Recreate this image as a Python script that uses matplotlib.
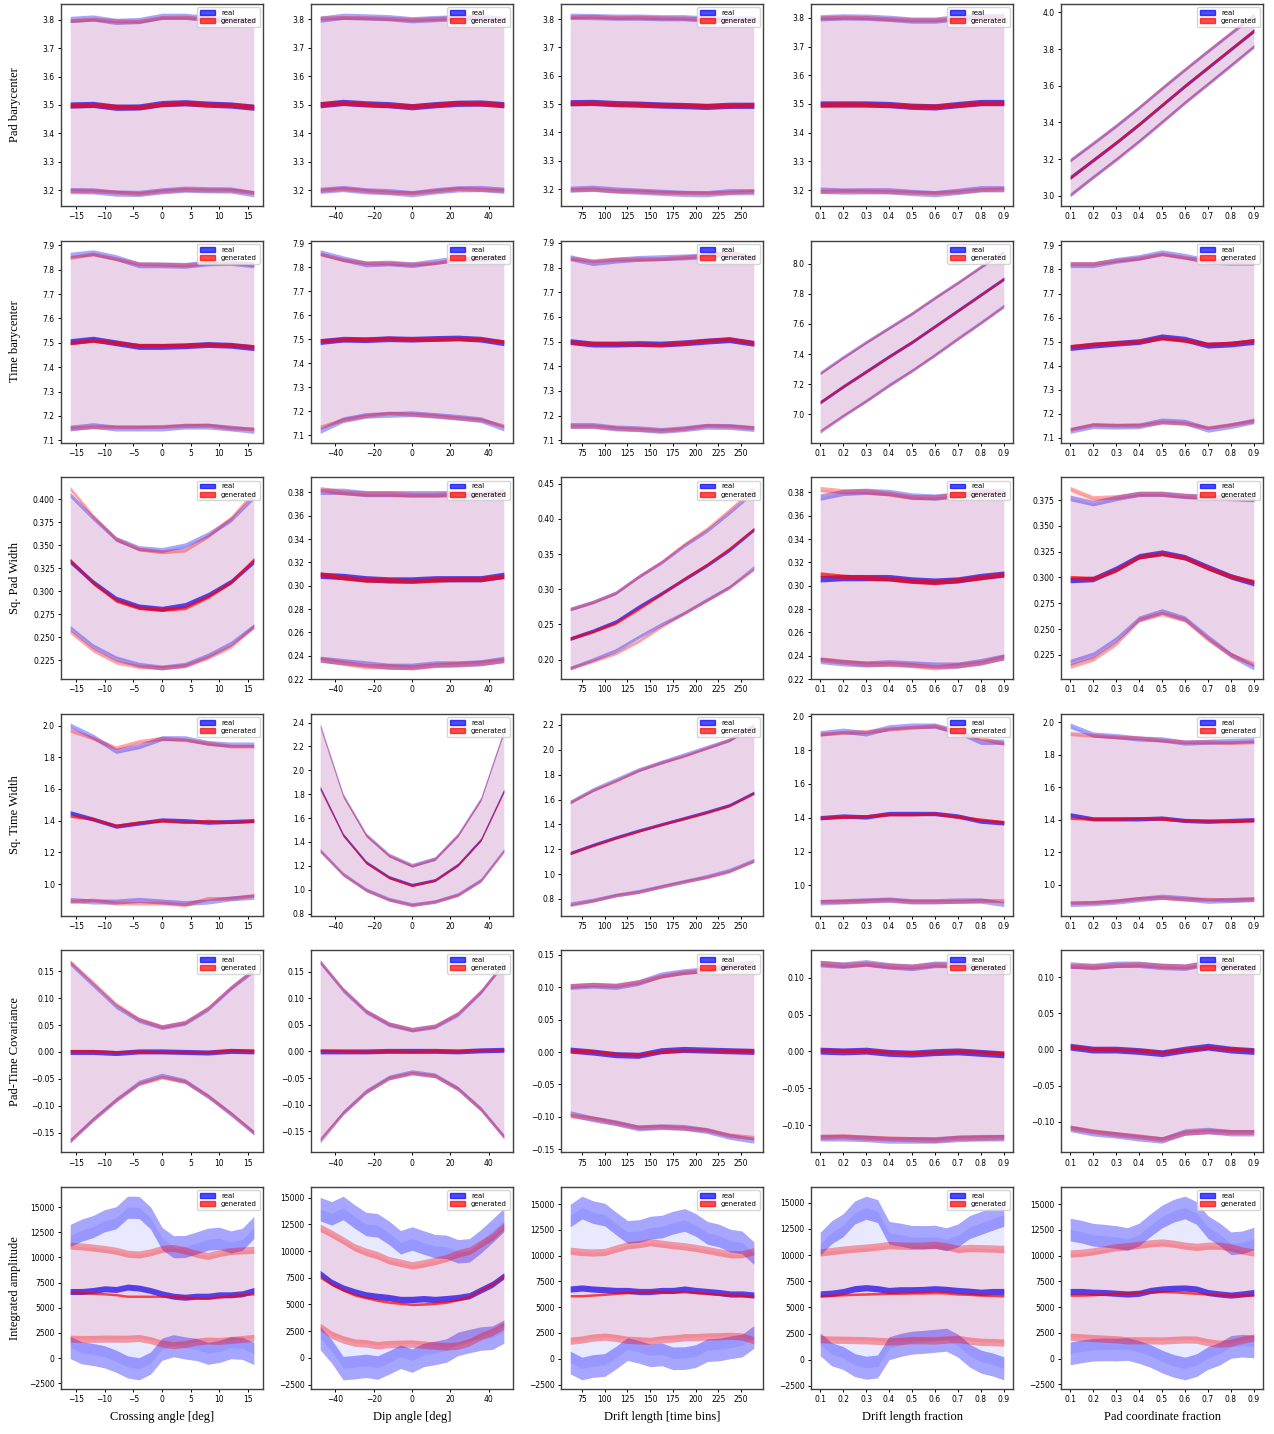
"""Comparacion real vs generado: medias y bandas +-std por variable."""
import matplotlib
matplotlib.use("Agg")
import matplotlib.pyplot as plt
import numpy as np
from matplotlib.patches import Patch
from matplotlib.ticker import MultipleLocator

# Ejes x de cada columna
crossing_angle = [-16, -12, -8, -4, 0, 4, 8, 12, 16]
dip_angle = [-48, -36, -24, -12, 0, 12, 24, 36, 48]
drift_length = [62, 87, 112, 137, 162, 187, 212, 237, 264]
drift_frac = [0.1, 0.2, 0.3, 0.4, 0.5, 0.6, 0.7, 0.8, 0.9]
pad_frac = [0.1, 0.2, 0.3, 0.4, 0.5, 0.6, 0.7, 0.8, 0.9]

# Ejes x mas finos para la amplitud integrada (curvas mas ruidosas)
amp_crossing_angle = [-16, -14, -12, -10, -8, -6, -4, -2, 0, 2, 4, 6, 8, 10, 12, 14, 16]
amp_dip_angle = [-48, -42, -36, -30, -24, -18, -12, -6, 0, 6, 12, 18, 24, 30, 36, 42, 48]
amp_drift_length = [62, 75, 87, 100, 112, 125, 138, 150, 163, 175, 188, 200, 213, 226, 238, 251, 264]
amp_drift_frac = [0.10, 0.15, 0.20, 0.25, 0.30, 0.35, 0.40, 0.45, 0.50,
                  0.55, 0.60, 0.65, 0.70, 0.75, 0.80, 0.85, 0.90]
amp_pad_frac = [0.10, 0.15, 0.20, 0.25, 0.30, 0.35, 0.40, 0.45, 0.50,
                0.55, 0.60, 0.65, 0.70, 0.75, 0.80, 0.85, 0.90]

x_labels = ["Crossing angle [deg]", "Dip angle [deg]", "Drift length [time bins]",
            "Drift length fraction", "Pad coordinate fraction"]
y_labels = ["Pad barycenter", "Time barycenter", "Sq. Pad Width",
            "Sq. Time Width", "Pad-Time Covariance", "Integrated amplitude"]

# --- Pad barycenter ---
padb_mu_real = [[3.500, 3.502, 3.492, 3.493, 3.505, 3.508, 3.503, 3.500, 3.492],
                [3.500, 3.508, 3.503, 3.500, 3.493, 3.500, 3.505, 3.506, 3.500],
                [3.505, 3.506, 3.502, 3.500, 3.497, 3.495, 3.492, 3.496, 3.496],
                [3.500, 3.500, 3.500, 3.498, 3.492, 3.490, 3.498, 3.505, 3.505],
                [3.100, 3.195, 3.290, 3.390, 3.495, 3.600, 3.700, 3.800, 3.900]]
padb_sd_real = [[0.302, 0.305, 0.303, 0.305, 0.308, 0.305, 0.302, 0.300, 0.305],
                [0.300, 0.302, 0.305, 0.305, 0.305, 0.302, 0.300, 0.300, 0.300],
                [0.305, 0.303, 0.305, 0.307, 0.308, 0.310, 0.308, 0.305, 0.305],
                [0.300, 0.303, 0.302, 0.300, 0.300, 0.302, 0.302, 0.300, 0.300],
                [0.095, 0.092, 0.092, 0.092, 0.092, 0.090, 0.090, 0.088, 0.085]]
padb_mu_gen = [[3.498, 3.500, 3.495, 3.492, 3.503, 3.506, 3.502, 3.500, 3.494],
               [3.502, 3.506, 3.502, 3.498, 3.495, 3.500, 3.506, 3.504, 3.500],
               [3.503, 3.505, 3.500, 3.500, 3.497, 3.496, 3.494, 3.495, 3.497],
               [3.498, 3.500, 3.499, 3.496, 3.493, 3.492, 3.497, 3.503, 3.504],
               [3.098, 3.195, 3.292, 3.392, 3.497, 3.600, 3.702, 3.802, 3.902]]
padb_sd_gen = [[0.300, 0.303, 0.302, 0.304, 0.306, 0.304, 0.302, 0.300, 0.303],
               [0.302, 0.300, 0.303, 0.305, 0.304, 0.302, 0.300, 0.301, 0.300],
               [0.305, 0.305, 0.306, 0.307, 0.308, 0.308, 0.307, 0.306, 0.304],
               [0.302, 0.302, 0.302, 0.301, 0.300, 0.301, 0.302, 0.301, 0.300],
               [0.095, 0.093, 0.092, 0.092, 0.093, 0.091, 0.090, 0.089, 0.087]]

# --- Time barycenter ---
timeb_mu_real = [[7.505, 7.515, 7.500, 7.485, 7.485, 7.488, 7.493, 7.490, 7.480],
                 [7.490, 7.500, 7.498, 7.502, 7.500, 7.503, 7.505, 7.500, 7.485],
                 [7.500, 7.490, 7.490, 7.492, 7.490, 7.495, 7.502, 7.508, 7.493],
                 [7.080, 7.185, 7.285, 7.385, 7.480, 7.585, 7.690, 7.795, 7.900],
                 [7.475, 7.485, 7.493, 7.500, 7.520, 7.510, 7.485, 7.490, 7.500]]
timeb_sd_real = [[0.355, 0.355, 0.350, 0.335, 0.335, 0.330, 0.335, 0.340, 0.340],
                 [0.370, 0.335, 0.315, 0.315, 0.310, 0.320, 0.330, 0.335, 0.355],
                 [0.340, 0.330, 0.340, 0.345, 0.350, 0.348, 0.345, 0.352, 0.345],
                 [0.195, 0.195, 0.195, 0.190, 0.190, 0.190, 0.185, 0.185, 0.180],
                 [0.345, 0.335, 0.345, 0.350, 0.350, 0.345, 0.350, 0.340, 0.330]]
timeb_mu_gen = [[7.500, 7.510, 7.500, 7.490, 7.490, 7.490, 7.495, 7.490, 7.485],
                [7.495, 7.498, 7.500, 7.505, 7.500, 7.500, 7.503, 7.500, 7.490],
                [7.498, 7.493, 7.492, 7.490, 7.488, 7.495, 7.505, 7.510, 7.495],
                [7.082, 7.185, 7.283, 7.383, 7.482, 7.585, 7.688, 7.793, 7.898],
                [7.480, 7.490, 7.495, 7.500, 7.515, 7.505, 7.490, 7.493, 7.505]]
timeb_sd_gen = [[0.350, 0.355, 0.345, 0.335, 0.333, 0.330, 0.333, 0.340, 0.338],
                [0.360, 0.333, 0.318, 0.312, 0.312, 0.318, 0.330, 0.335, 0.350],
                [0.340, 0.335, 0.342, 0.345, 0.348, 0.348, 0.345, 0.352, 0.345],
                [0.190, 0.192, 0.195, 0.192, 0.190, 0.190, 0.188, 0.186, 0.182],
                [0.345, 0.335, 0.343, 0.348, 0.350, 0.345, 0.348, 0.338, 0.335]]

# --- Sq. Pad Width ---
padw_mu_real = [[0.3325, 0.310, 0.292, 0.2835, 0.281, 0.285, 0.296, 0.3105, 0.3325],
                [0.309, 0.308, 0.306, 0.305, 0.305, 0.306, 0.306, 0.306, 0.309],
                [0.230, 0.241, 0.254, 0.275, 0.294, 0.314, 0.334, 0.356, 0.385],
                [0.306, 0.307, 0.307, 0.307, 0.305, 0.304, 0.305, 0.308, 0.310],
                [0.2975, 0.2985, 0.3085, 0.3205, 0.324, 0.3195, 0.310, 0.301, 0.2945]]
padw_sd_real = [[0.0725, 0.070, 0.065, 0.0635, 0.064, 0.065, 0.066, 0.0675, 0.0705],
                [0.072, 0.073, 0.073, 0.074, 0.074, 0.073, 0.073, 0.072, 0.072],
                [0.042, 0.041, 0.041, 0.043, 0.044, 0.048, 0.049, 0.053, 0.054],
                [0.070, 0.073, 0.074, 0.073, 0.072, 0.072, 0.073, 0.073, 0.071],
                [0.0795, 0.0735, 0.0685, 0.0605, 0.057, 0.0595, 0.068, 0.076, 0.0815]]
padw_mu_gen = [[0.334, 0.309, 0.290, 0.282, 0.280, 0.282, 0.294, 0.310, 0.335],
               [0.310, 0.307, 0.305, 0.305, 0.304, 0.305, 0.306, 0.306, 0.308],
               [0.230, 0.240, 0.252, 0.272, 0.293, 0.315, 0.335, 0.358, 0.386],
               [0.310, 0.308, 0.307, 0.306, 0.304, 0.303, 0.305, 0.307, 0.310],
               [0.300, 0.299, 0.307, 0.320, 0.323, 0.319, 0.309, 0.301, 0.296]]
padw_sd_gen = [[0.078, 0.073, 0.067, 0.064, 0.063, 0.063, 0.066, 0.070, 0.073],
               [0.073, 0.073, 0.074, 0.074, 0.074, 0.073, 0.073, 0.072, 0.072],
               [0.042, 0.042, 0.043, 0.046, 0.046, 0.049, 0.051, 0.055, 0.058],
               [0.073, 0.073, 0.074, 0.073, 0.072, 0.073, 0.073, 0.073, 0.071],
               [0.086, 0.078, 0.071, 0.061, 0.058, 0.060, 0.069, 0.076, 0.080]]

# --- Sq. Time Width ---
timew_mu_real = [[1.450, 1.410, 1.365, 1.385, 1.405, 1.400, 1.390, 1.395, 1.400],
                 [1.855, 1.460, 1.230, 1.105, 1.040, 1.080, 1.210, 1.420, 1.830],
                 [1.170, 1.235, 1.295, 1.350, 1.400, 1.450, 1.500, 1.555, 1.655],
                 [1.400, 1.410, 1.405, 1.425, 1.425, 1.425, 1.410, 1.380, 1.370],
                 [1.430, 1.405, 1.405, 1.405, 1.410, 1.395, 1.390, 1.395, 1.400]]
timew_sd_real = [[0.550, 0.520, 0.475, 0.485, 0.515, 0.520, 0.500, 0.485, 0.480],
                 [0.525, 0.330, 0.230, 0.185, 0.165, 0.180, 0.250, 0.340, 0.500],
                 [0.410, 0.445, 0.465, 0.490, 0.500, 0.510, 0.520, 0.525, 0.545],
                 [0.500, 0.505, 0.495, 0.510, 0.520, 0.520, 0.500, 0.470, 0.480],
                 [0.550, 0.520, 0.510, 0.495, 0.485, 0.480, 0.490, 0.490, 0.490]]
timew_mu_gen = [[1.430, 1.410, 1.370, 1.390, 1.400, 1.390, 1.400, 1.390, 1.400],
                [1.840, 1.455, 1.225, 1.100, 1.035, 1.080, 1.205, 1.415, 1.820],
                [1.165, 1.230, 1.290, 1.345, 1.400, 1.445, 1.495, 1.550, 1.650],
                [1.400, 1.405, 1.410, 1.420, 1.420, 1.425, 1.405, 1.390, 1.375],
                [1.410, 1.405, 1.405, 1.410, 1.405, 1.395, 1.395, 1.390, 1.395]]
timew_sd_gen = [[0.540, 0.510, 0.490, 0.510, 0.520, 0.520, 0.490, 0.480, 0.470],
                [0.520, 0.330, 0.230, 0.185, 0.165, 0.180, 0.250, 0.340, 0.500],
                [0.415, 0.445, 0.460, 0.490, 0.500, 0.505, 0.520, 0.530, 0.545],
                [0.495, 0.500, 0.500, 0.505, 0.515, 0.520, 0.500, 0.480, 0.465],
                [0.520, 0.515, 0.505, 0.495, 0.485, 0.485, 0.485, 0.485, 0.485]]

# --- Pad-Time Covariance ---
cov_mu_real = [[0.000, 0.000, -0.002, 0.001, 0.001, 0.000, -0.001, 0.002, 0.001],
               [0.000, 0.000, 0.000, 0.001, 0.001, 0.001, 0.000, 0.002, 0.003],
               [0.003, 0.000, -0.004, -0.005, 0.002, 0.004, 0.003, 0.002, 0.001],
               [0.001, 0.000, 0.001, -0.002, -0.003, -0.001, 0.000, -0.002, -0.004],
               [0.004, 0.000, 0.000, -0.002, -0.005, 0.000, 0.004, 0.000, -0.002]]
cov_sd_real = [[0.165, 0.125, 0.087, 0.058, 0.045, 0.054, 0.081, 0.117, 0.151],
               [0.168, 0.115, 0.075, 0.050, 0.040, 0.046, 0.070, 0.110, 0.163],
               [0.098, 0.103, 0.105, 0.112, 0.117, 0.120, 0.124, 0.132, 0.137],
               [0.118, 0.117, 0.119, 0.118, 0.117, 0.119, 0.118, 0.115, 0.113],
               [0.113, 0.115, 0.118, 0.120, 0.120, 0.114, 0.116, 0.115, 0.113]]
cov_mu_gen = [[0.002, 0.002, 0.000, 0.001, 0.000, 0.000, 0.000, 0.003, 0.002],
              [0.002, 0.001, 0.000, 0.001, 0.000, 0.001, 0.001, 0.002, 0.003],
              [0.002, 0.001, -0.003, -0.004, 0.001, 0.003, 0.003, 0.002, 0.002],
              [0.002, 0.001, 0.001, -0.001, -0.002, -0.001, 0.000, -0.001, -0.003],
              [0.004, 0.001, 0.000, -0.001, -0.004, 0.000, 0.003, 0.001, -0.001]]
cov_sd_gen = [[0.166, 0.127, 0.089, 0.060, 0.047, 0.055, 0.082, 0.117, 0.152],
              [0.166, 0.116, 0.076, 0.051, 0.041, 0.047, 0.071, 0.111, 0.163],
              [0.100, 0.103, 0.106, 0.112, 0.116, 0.120, 0.123, 0.130, 0.134],
              [0.118, 0.116, 0.118, 0.117, 0.117, 0.119, 0.117, 0.116, 0.113],
              [0.112, 0.114, 0.117, 0.119, 0.120, 0.115, 0.116, 0.115, 0.113]]

# --- Integrated amplitude (17 puntos) ---
amp_mu_real = [[6620, 6620, 6720, 6890, 6820, 7060, 6960, 6720, 6390,
                6150, 6050, 6150, 6150, 6290, 6290, 6390, 6720],
               [7890, 7070, 6540, 6180, 5890, 5750, 5640, 5460, 5460,
                5540, 5460, 5540, 5640, 5820, 6360, 6890, 7680],
               [6760, 6860, 6760, 6690, 6620, 6620, 6520, 6520, 6620,
                6620, 6760, 6620, 6520, 6420, 6280, 6280, 6180],
               [6280, 6350, 6510, 6780, 6880, 6780, 6610, 6680, 6680,
                6710, 6780, 6710, 6610, 6540, 6440, 6510, 6510],
               [6520, 6520, 6450, 6420, 6350, 6280, 6350, 6620, 6760,
                6830, 6860, 6760, 6420, 6280, 6170, 6280, 6420]]
amp_sd_real = [[5570, 6095, 6360, 6765, 7130, 7935, 8020, 7215, 5505,
                4920, 5040, 5290, 5670, 5625, 5255, 5420, 6260],
               [6035, 6465, 7500, 7055, 6640, 6660, 6070, 5360, 5715,
                5270, 5000, 4855, 4335, 4250, 4555, 5000, 5230],
               [7120, 7800, 7460, 7290, 6525, 5680, 5855, 6190, 6195,
                6575, 6695, 6360, 5685, 5515, 5175, 5005, 4070],
               [4805, 5835, 6350, 7295, 7655, 7430, 5520, 5275, 5055,
                5010, 4975, 4805, 5270, 6135, 6630, 6965, 7340],
               [6010, 5805, 5580, 5515, 5460, 5340, 5700, 6355, 7040,
                7520, 7810, 7385, 6355, 5805, 5030, 5015, 5235]]
amp_mu_gen = [[6560, 6500, 6450, 6390, 6300, 6150, 6150, 6150, 6150,
               6120, 6050, 6000, 5950, 6080, 6220, 6300, 6390],
              [7540, 6890, 6360, 5890, 5640, 5390, 5210, 5110, 5000,
               5040, 5110, 5210, 5460, 5750, 6360, 6890, 7680],
              [6110, 6110, 6180, 6250, 6350, 6420, 6450, 6520, 6520,
               6490, 6490, 6420, 6350, 6250, 6180, 6150, 6110],
              [6110, 6150, 6210, 6250, 6280, 6310, 6350, 6350, 6380,
               6380, 6410, 6380, 6280, 6250, 6180, 6150, 6110],
              [6170, 6170, 6210, 6280, 6350, 6350, 6420, 6490, 6520,
               6490, 6420, 6350, 6280, 6210, 6170, 6170, 6170]]
amp_sd_gen = [[4625, 4600, 4540, 4455, 4370, 4225, 4150, 4370, 4705,
               4840, 4655, 4370, 4200, 4370, 4420, 4400, 4375],
              [4640, 4735, 4645, 4460, 4285, 4215, 3925, 3800, 3660,
               3805, 3965, 4140, 4320, 4285, 4340, 4465, 4645],
              [4360, 4240, 4120, 4105, 4325, 4580, 4665, 4785, 4630,
               4530, 4410, 4325, 4190, 4070, 3950, 3985, 4325],
              [4140, 4240, 4310, 4375, 4430, 4510, 4610, 4565, 4510,
               4525, 4575, 4460, 4310, 4430, 4480, 4475, 4475],
              [4040, 4105, 4210, 4345, 4465, 4570, 4640, 4705, 4760,
               4670, 4550, 4500, 4690, 4755, 4635, 4330, 4125]]

# Semi-ancho de las bandas de incertidumbre (por fila)
err_mu_real = [0.011, 0.012, 0.0027, 0.013, 0.0047, 300]
err_sd_real = [0.011, 0.012, 0.0027, 0.016, 0.0045, 1100]
err_mu_gen = [0.008, 0.008, 0.0020, 0.009, 0.0025, 120]
err_sd_gen = [0.007, 0.008, 0.0022, 0.012, 0.0035, 350]

x_grids = [crossing_angle, dip_angle, drift_length, drift_frac, pad_frac]
x_grids_amp = [amp_crossing_angle, amp_dip_angle, amp_drift_length, amp_drift_frac, amp_pad_frac]
x_steps = [5, 20, 25, 0.1, 0.1]
rows = [(padb_mu_real, padb_sd_real, padb_mu_gen, padb_sd_gen),
        (timeb_mu_real, timeb_sd_real, timeb_mu_gen, timeb_sd_gen),
        (padw_mu_real, padw_sd_real, padw_mu_gen, padw_sd_gen),
        (timew_mu_real, timew_sd_real, timew_mu_gen, timew_sd_gen),
        (cov_mu_real, cov_sd_real, cov_mu_gen, cov_sd_gen),
        (amp_mu_real, amp_sd_real, amp_mu_gen, amp_sd_gen)]


def dibujar(ax, x, mu, sd, e_mu, e_sd, color):
    mu = np.asarray(mu, dtype=float)
    sd = np.asarray(sd, dtype=float)
    ax.fill_between(x, mu - sd, mu + sd, color=color, alpha=0.09, lw=0)
    for borde in (mu + sd, mu - sd):
        ax.fill_between(x, borde - e_sd, borde + e_sd, color=color, alpha=0.35, lw=0)
    ax.fill_between(x, mu - e_mu, mu + e_mu, color=color, alpha=0.7, lw=0)


fig = plt.figure(figsize=(12.74, 14.34), dpi=100)
W, H = 1274, 1434
for i, (mu_r, sd_r, mu_g, sd_g) in enumerate(rows):
    for j in range(5):
        left = 61 + 250 * j
        top = 4 + 236.6 * i
        ax = fig.add_axes([left / W, 1 - (top + 202) / H, 202 / W, 202 / H])
        x = x_grids_amp[j] if i == 5 else x_grids[j]
        dibujar(ax, x, mu_r[j], sd_r[j], err_mu_real[i], err_sd_real[i], "blue")
        dibujar(ax, x, mu_g[j], sd_g[j], err_mu_gen[i], err_sd_gen[i], "red")
        ax.xaxis.set_major_locator(MultipleLocator(x_steps[j]))
        ax.tick_params(labelsize=5.5, length=2.5, width=0.7, pad=2)
        for s in ax.spines.values():
            s.set_linewidth(1.0)
            s.set_color("#404040")
        ax.legend(handles=[Patch(color="blue", alpha=0.7, label="real"),
                           Patch(color="red", alpha=0.7, label="generated")],
                  loc="upper right", fontsize=5, handlelength=2.2,
                  borderpad=0.4, labelspacing=0.3)
        if j == 0:
            ax.set_ylabel(y_labels[i], family="Liberation Serif", fontsize=9)
            ax.yaxis.set_label_coords(-0.198, 0.5)
        if i == 5:
            ax.set_xlabel(x_labels[j], family="Liberation Serif", fontsize=9, va="top")
            ax.xaxis.set_label_coords(0.5, -0.11)

fig.savefig("out.png", dpi=100)
